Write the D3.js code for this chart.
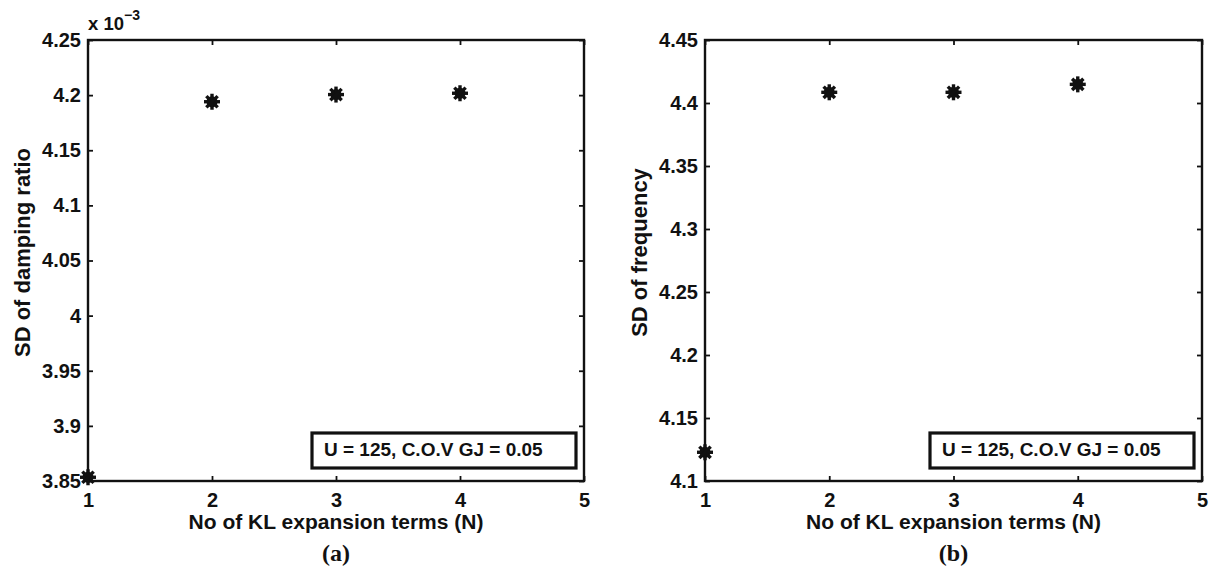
<!DOCTYPE html>
<html>
<head>
<meta charset="utf-8">
<script src="https://cdn.jsdelivr.net/npm/d3@7"></script>
<style>
  body { margin: 0; background: #fff; }
  svg { display: block; }
  text { font-family: "Liberation Sans", Arial, sans-serif; font-weight: bold; fill: #111; }
</style>
</head>
<body>
<script>
// data
var nTerms = [1, 2, 3, 4];
var sdDamping = [3.8534, 4.194, 4.2005, 4.2017];   // x 10^-3
var sdFrequency = [4.1228, 4.4085, 4.4085, 4.4148];
var xTicks = [1, 2, 3, 4, 5];
var dampingTicks = [3.85, 3.9, 3.95, 4, 4.05, 4.1, 4.15, 4.2, 4.25];
var freqTicks = [4.1, 4.15, 4.2, 4.25, 4.3, 4.35, 4.4, 4.45];
var legendText = "U = 125, C.O.V GJ = 0.05";

var svgW = 1213, svgH = 570;
var top_ = 40, bottom_ = 481;

var svg = d3.select("body").append("svg")
    .attr("width", svgW)
    .attr("height", svgH);

function panel(opt) {
    var g = svg.append("g");
    var x = d3.scaleLinear().domain([1, 5]).range([opt.x0, opt.x1]);
    var y = d3.scaleLinear().domain(opt.ydom).range([bottom_, top_]);
    var tickFmt = function(d) { return String(+d.toFixed(2)); };

    // axes: bottom and left carry labels, top and right only ticks
    g.append("g")
        .attr("transform", "translate(0," + bottom_ + ")")
        .call(d3.axisBottom(x).tickValues(xTicks).tickSizeInner(-5).tickSizeOuter(0).tickPadding(12).tickFormat(d3.format("d")))
        .call(styleAxis);
    g.append("g")
        .attr("transform", "translate(0," + top_ + ")")
        .call(d3.axisTop(x).tickValues(xTicks).tickSizeInner(-5).tickSizeOuter(0).tickFormat(""))
        .call(styleAxis);
    g.append("g")
        .attr("transform", "translate(" + opt.x0 + ",0)")
        .call(d3.axisLeft(y).tickValues(opt.yticks).tickSizeInner(-5).tickSizeOuter(0).tickPadding(7).tickFormat(tickFmt))
        .call(styleAxis);
    g.append("g")
        .attr("transform", "translate(" + opt.x1 + ",0)")
        .call(d3.axisRight(y).tickValues(opt.yticks).tickSizeInner(-5).tickSizeOuter(0).tickFormat(""))
        .call(styleAxis);

    // box
    g.append("rect")
        .attr("x", opt.x0).attr("y", top_)
        .attr("width", opt.x1 - opt.x0).attr("height", bottom_ - top_)
        .attr("fill", "none").attr("stroke", "#111").attr("stroke-width", 2.4);

    // markers
    var mk = g.selectAll(".mk")
        .data(nTerms.map(function(n, i) { return [n, opt.values[i]]; }))
        .enter().append("g")
        .attr("class", "mk")
        .attr("transform", function(d) { return "translate(" + x(d[0]) + "," + y(d[1]) + ")"; });
    mk.append("circle").attr("r", 5.5).attr("fill", "#111");
    [0, 45, 90, 135].forEach(function(a) {
        mk.append("line")
            .attr("x1", -8).attr("x2", 8)
            .attr("transform", "rotate(" + a + ")")
            .attr("stroke", "#111").attr("stroke-width", 3.4);
    });

    // legend box
    var lw = 264, lh = 35;
    var lx = opt.x1 - 8 - lw, ly = bottom_ - 13 - lh;
    g.append("rect")
        .attr("x", lx).attr("y", ly).attr("width", lw).attr("height", lh)
        .attr("fill", "#fff").attr("stroke", "#111").attr("stroke-width", 3.2);
    g.append("text")
        .attr("x", lx + 12).attr("y", ly + 23)
        .attr("font-size", 19)
        .text(legendText);

    // axis labels
    var cx = (opt.x0 + opt.x1) / 2;
    g.append("text")
        .attr("x", cx).attr("y", 529)
        .attr("text-anchor", "middle")
        .attr("font-size", 21)
        .text("No of KL expansion terms (N)");
    g.append("text")
        .attr("transform", "translate(" + (opt.x0 - 58) + "," + ((top_ + bottom_) / 2 - 8) + ") rotate(-90)")
        .attr("text-anchor", "middle")
        .attr("font-size", 22)
        .text(opt.ylabel);
    g.append("text")
        .attr("x", cx).attr("y", 561)
        .attr("text-anchor", "middle")
        .attr("font-size", 24)
        .style("font-family", "'Liberation Serif', 'Times New Roman', serif")
        .text(opt.tag);
    return g;
}

function styleAxis(sel) {
    sel.select(".domain").remove();
    sel.selectAll(".tick line").attr("stroke", "#111").attr("stroke-width", 1.8);
    sel.selectAll(".tick text")
        .attr("font-size", 20)
        .attr("fill", "#111")
        .style("font-family", "'Liberation Sans', Arial, sans-serif")
        .style("font-weight", "bold");
}

var left = panel({ x0: 88, x1: 584, ydom: [3.85, 4.25], yticks: dampingTicks, values: sdDamping,
                   ylabel: "SD of damping ratio", tag: "(a)" });
var right = panel({ x0: 705, x1: 1202, ydom: [4.1, 4.45], yticks: freqTicks, values: sdFrequency,
                    ylabel: "SD of frequency", tag: "(b)" });

// exponent label on left panel
var ex = left.append("text").attr("x", 88).attr("y", 30).attr("font-size", 18.5);
ex.append("tspan").text("x 10");
ex.append("tspan").attr("dy", -10).attr("font-size", 14).text("\u22123");
</script>
</body>
</html>
